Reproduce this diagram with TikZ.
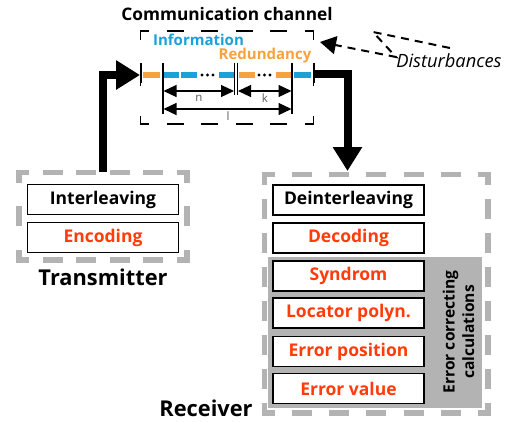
\documentclass[tikz,border=0pt]{standalone}
\usepackage{fontspec}
\setmainfont{Open Sans}
\usetikzlibrary{arrows.meta}
\definecolor{infoblue}{HTML}{1BA0D8}
\definecolor{redorange}{HTML}{F7A23E}
\definecolor{txtred}{HTML}{FF3C0A}
\definecolor{dgray}{HTML}{B3B3B3}
% one dashed side: from, to, length, number of inner dashes, dash length, line width, colour
\newcommand\dside[7]{%
  \pgfmathsetmacro\dsOn{#5-#6}%
  \pgfmathsetmacro\dsOff{#3/(#4+1)-#5+#6}%
  \pgfmathsetmacro\dsPh{(#5-#6)/2}%
  \draw[#7,line width=#6pt,line cap=rect,dash pattern=on \dsOn pt off \dsOff pt,dash phase=\dsPh pt] #1 -- #2;}
\begin{document}
\begin{tikzpicture}[x=1pt,y=-1pt,
  stagebox/.style={draw=black,line width=1.3pt,fill=white,minimum width=151pt,minimum height=30pt,inner sep=0pt,font=\fontsize{17.5}{20}\selectfont\bfseries},
  redtxt/.style={text=txtred},
  thickarrow/.style={line width=8pt,-{Triangle[length=24pt,width=28pt]}},
  dimarrow/.style={line width=1.2pt,{Triangle[length=13pt,width=12pt]}-{Triangle[length=13pt,width=12pt]}},
  tick/.style={line width=1.1pt},
  seg/.style={line width=6pt},
  dimlabel/.style={font=\fontsize{11.5}{13}\selectfont,text=black!65,inner sep=0pt}]
\useasboundingbox (0,0) rectangle (512,421);

% Communication channel
\node[font=\fontsize{17.3}{20}\selectfont\bfseries] (chtitle) at (227,14) {Communication channel};
\dside{(140.7,31)}{(313.5,31)}{172.8}{4}{17}{1.1}{black}
\dside{(140.7,124)}{(313.5,124)}{172.8}{4}{17}{1.1}{black}
\dside{(140.7,31)}{(140.7,124)}{93}{1}{17}{1.1}{black}
\dside{(313.5,31)}{(313.5,124)}{93}{1}{17}{1.1}{black}
\node[font=\fontsize{15}{17}\selectfont\bfseries,text=infoblue] (info) at (198.5,39.5) {Information};
\node[font=\fontsize{15}{17}\selectfont\bfseries,text=redorange] (redund) at (265,56) {Redundancy};

% bit segments
\draw[seg,redorange] (143,75) -- (160,75);
\draw[seg,infoblue] (163,75) -- (179,75);
\draw[seg,infoblue] (181,75) -- (197,75);
\foreach \x in {202,207.5,213} \fill (\x,75) circle (1.7pt);
\draw[seg,infoblue] (219,75) -- (234,75);
\draw[seg,redorange] (239,75) -- (255,75);
\foreach \x in {259,264.5,270} \fill (\x,75) circle (1.7pt);
\draw[seg,redorange] (276,75) -- (291,75);
\draw[seg,infoblue] (294,75) -- (311,75);

% ticks
\draw[tick] (141,63) -- (141,83);
\draw[tick] (163,63) -- (163,114);
\draw[tick] (234.5,63) -- (234.5,95);
\draw[tick] (237.5,63) -- (237.5,95);
\draw[tick] (292,63) -- (292,114);
\draw[tick] (314,63) -- (314,83);

\coordinate (nL) at (163.5,91); \coordinate (nR) at (234,91);
\coordinate (kL) at (238,91); \coordinate (kR) at (291.5,91);
\coordinate (lL) at (163.5,109); \coordinate (lR) at (291.5,109);
\draw[dimarrow] (nL) -- (nR);
\draw[dimarrow] (kL) -- (kR);
\draw[dimarrow] (lL) -- (lR);
\node[dimlabel] (nlab) at (199,98) {n};
\node[dimlabel] (klab) at (265,98) {k};
\node[dimlabel] (llab) at (228,116) {l};

% Disturbances
\node[font=\fontsize{18.3}{20}\selectfont\itshape] (dist) at (449,61) {Disturbances};
\coordinate (d1) at (450,48);
\coordinate (d2) at (373,32);
\coordinate (d3) at (396,57);
\coordinate (d4) at (320,42);
\draw[line width=2pt,dash pattern=on 8pt off 6pt,line join=miter,miter limit=10,-{Triangle[length=16pt,width=18pt]}] (d1) -- (d2) -- (d3) -- (d4);

% Transmitter
\dside{(19,172.5)}{(187,172.5)}{168}{4}{20}{5.5}{dgray}
\dside{(19,260)}{(187,260)}{168}{4}{20}{5.5}{dgray}
\dside{(19,172.5)}{(19,260)}{87.5}{1}{20}{5.5}{dgray}
\dside{(187,172.5)}{(187,260)}{87.5}{1}{20}{5.5}{dgray}
\coordinate (txtop) at (103,172);
\node[stagebox] (interl) at (103,199.5) {Interleaving};
\node[stagebox,redtxt] (enc) at (103,237.5) {Encoding};
\node[font=\fontsize{21.8}{24}\selectfont\bfseries] (txlab) at (103,277) {Transmitter};

% Receiver
\fill[dgray] (268,257) rectangle (482,408);
\dside{(264.5,174.5)}{(488,174.5)}{223.5}{5}{20}{5.5}{dgray}
\dside{(264.5,413)}{(488,413)}{223.5}{5}{20}{5.5}{dgray}
\dside{(264.5,174.5)}{(264.5,413)}{238.5}{6}{20}{5.5}{dgray}
\dside{(488,174.5)}{(488,413)}{238.5}{6}{20}{5.5}{dgray}
\node[stagebox] (deint) at (348.5,200) {Deinterleaving};
\node[stagebox,redtxt] (dec) at (348.5,238) {Decoding};
\node[stagebox,redtxt] (synd) at (348.5,276) {Syndrom};
\node[stagebox,redtxt] (loc) at (348.5,313) {Locator polyn.};
\node[stagebox,redtxt] (epos) at (348.5,351.5) {Error position};
\node[stagebox,redtxt] (eval) at (348.5,388.5) {Error value};
\node[rotate=90,align=center,font=\fontsize{15.6}{19.5}\selectfont\bfseries] (ecc) at (458.5,332) {Error correcting\\calculations};
\node[font=\fontsize{21.8}{24}\selectfont\bfseries] (rxlab) at (206,408) {Receiver};

% thick connectors
\coordinate (chin) at (140,75);
\coordinate (chout) at (314,74);
\coordinate (rxtop) at (347.5,171);
\draw[thickarrow,line join=miter] (txtop) |- (chin);
\draw[thickarrow,line join=miter] (chout) -| (rxtop);
\end{tikzpicture}
\end{document}
